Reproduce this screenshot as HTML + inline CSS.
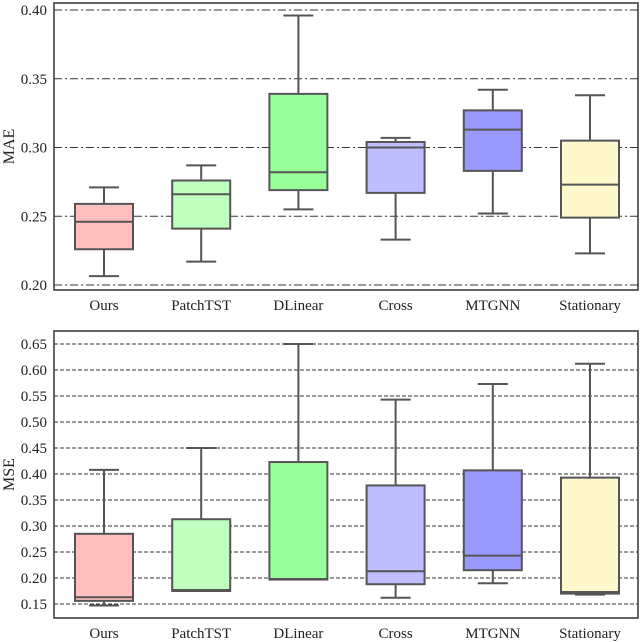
<!DOCTYPE html>
<html><head><meta charset="utf-8"><style>
body{margin:0;background:#fff}
svg{display:block;font-family:"Liberation Serif",serif}
</style></head><body>
<svg id="c" width="640" height="642"></svg>
<script>
const categories=["Ours","PatchTST","DLinear","Cross","MTGNN","Stationary"];
const colors=["#ffbfbf","#bfffbf","#99ff99","#bfbfff","#9999ff","#fff8cd"];
const maeLow=[0.2065,0.217,0.255,0.233,0.252,0.223];
const maeQ1=[0.226,0.241,0.269,0.267,0.283,0.249];
const maeMed=[0.246,0.266,0.282,0.300,0.313,0.273];
const maeQ3=[0.259,0.276,0.339,0.304,0.327,0.305];
const maeHigh=[0.271,0.287,0.396,0.307,0.342,0.338];
const maeTicks=[0.20,0.25,0.30,0.35,0.40];
const mseLow=[0.147,0.175,0.197,0.162,0.190,0.168];
const mseQ1=[0.156,0.175,0.197,0.188,0.215,0.170];
const mseMed=[0.163,0.177,0.198,0.213,0.243,0.173];
const mseQ3=[0.285,0.313,0.423,0.378,0.407,0.393];
const mseHigh=[0.408,0.450,0.650,0.543,0.573,0.612];
const mseTicks=[0.15,0.20,0.25,0.30,0.35,0.40,0.45,0.50,0.55,0.60,0.65];
const svg=document.getElementById('c');
const NS="http://www.w3.org/2000/svg";
function mk(tag,attrs,parent){const e=document.createElementNS(NS,tag);for(const k in attrs)e.setAttribute(k,attrs[k]);(parent||svg).appendChild(e);return e;}
function panel(p){
  const g=mk('g',{});
  
  
  const y=v=>p.y0+(p.v0-v)*(p.y1-p.y0)/(p.v0-p.v1);
  const x=i=>104+i*97.2;
  p.ticks.forEach(t=>{
    const l=mk('line',{x1:54,x2:638,y1:y(t),y2:y(t),stroke:'#333','stroke-width':1,'stroke-dasharray':p.dash},g);
    
    
    const tx=mk('text',{x:47,y:y(t)+5,'text-anchor':'end','font-size':15,fill:'#222'},g);
    tx.textContent=t.toFixed(2);
    
    
  });
  categories.forEach((c,i)=>{
    const b=mk('g',{},g);
    
    
    const cx=x(i),w=29,st={stroke:'#555','stroke-width':2};
    mk('line',Object.assign({x1:cx,x2:cx,y1:y(p.high[i]),y2:y(p.q3[i])},st),b);
    mk('line',Object.assign({x1:cx,x2:cx,y1:y(p.q1[i]),y2:y(p.low[i])},st),b);
    mk('line',Object.assign({x1:cx-15,x2:cx+15,y1:y(p.high[i]),y2:y(p.high[i])},st),b);
    mk('line',Object.assign({x1:cx-15,x2:cx+15,y1:y(p.low[i]),y2:y(p.low[i])},st),b);
    mk('rect',Object.assign({x:cx-w,y:y(p.q3[i]),width:2*w,height:y(p.q1[i])-y(p.q3[i]),fill:colors[i]},st),b);
    mk('line',Object.assign({x1:cx-w,x2:cx+w,y1:y(p.med[i]),y2:y(p.med[i])},st),b);
    const tx=mk('text',{x:cx,y:p.yb+20,'text-anchor':'middle','font-size':15,fill:'#222'},g);
    tx.textContent=c;
    
    
  });
  const f=mk('rect',{x:54,y:p.yt,width:584,height:p.yb-p.yt,fill:'none',stroke:'#333','stroke-width':1.5},g);
  
  
  const yt=(p.yt+p.yb)/2;
  const lab=mk('text',{x:14,y:yt,'text-anchor':'middle','font-size':16,fill:'#222',transform:`rotate(-90 14 ${yt})`},g);
  lab.textContent=p.label;
  
  
}
panel({name:'mae',label:'MAE',y0:10,v0:0.40,y1:285,v1:0.20,yt:3,yb:290,ticks:maeTicks,dash:'8,3,2,3',
  low:maeLow,q1:maeQ1,med:maeMed,q3:maeQ3,high:maeHigh});
panel({name:'mse',label:'MSE',y0:344,v0:0.65,y1:604,v1:0.15,yt:331,yb:618,ticks:mseTicks,dash:'4,2',
  low:mseLow,q1:mseQ1,med:mseMed,q3:mseQ3,high:mseHigh});
</script>
</body></html>
